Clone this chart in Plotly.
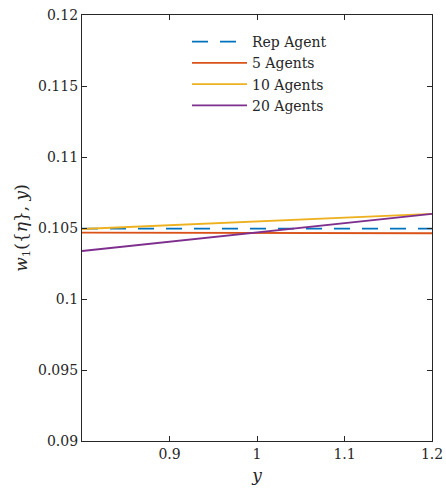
import plotly.graph_objects as go

x_vals = [0.8, 0.9, 1.0, 1.1, 1.2]
rep_agent = [0.10495, 0.10495, 0.10495, 0.10495, 0.10495]
agents_5 = [0.10468, 0.10467, 0.10466, 0.10465, 0.10463]
agents_10 = [0.10493, 0.10520, 0.10547, 0.10573, 0.10599]
agents_20 = [0.10338, 0.10404, 0.10469, 0.10534, 0.10599]

series = [
    ("Rep Agent", rep_agent, "#0072BD", "16px,12px"),
    ("5 Agents", agents_5, "#D95319", "solid"),
    ("10 Agents", agents_10, "#EDB120", "solid"),
    ("20 Agents", agents_20, "#7E2F8E", "solid"),
]

x_ticks = [0.9, 1.0, 1.1, 1.2]
x_ticktext = ["0.9", "1", "1.1", "1.2"]
y_ticks = [0.09, 0.095, 0.1, 0.105, 0.11, 0.115, 0.12]
y_ticktext = ["0.09", "0.095", "0.1", "0.105", "0.11", "0.115", "0.12"]

fig = go.Figure()
for name, vals, color, dash in series:
    fig.add_trace(go.Scatter(x=x_vals, y=vals, mode="lines", name=name,
                             line=dict(color=color, width=1.8, dash=dash)))

font = "DejaVu Serif"
axis_common = dict(showline=True, linecolor="#262626", linewidth=1.2, mirror="ticks",
                   ticks="inside", ticklen=5, tickcolor="#262626", tickwidth=1,
                   showgrid=False, zeroline=False, automargin=False,
                   tickfont=dict(family=font, size=14, color="#262626"))

fig.update_layout(
    width=446, height=492,
    margin=dict(l=82, r=14, t=15, b=51),
    plot_bgcolor="white", paper_bgcolor="white",
    showlegend=True,
    legend=dict(x=0.3, y=0.974, xanchor="left", yanchor="top",
                bgcolor="rgba(0,0,0,0)", borderwidth=0, itemwidth=55,
                font=dict(family=font, size=14, color="#262626"),
                tracegroupgap=0),
    xaxis=dict(range=[0.8, 1.2], tickvals=x_ticks, ticktext=x_ticktext,
               title=dict(text="<i>y</i>", font=dict(family=font, size=17, color="#262626"), standoff=8),
               **axis_common),
    yaxis=dict(range=[0.09, 0.12], tickvals=y_ticks, ticktext=y_ticktext,
               title=dict(text="<i>w</i><sub>1</sub>({<i>η</i>}, <i>y</i>)",
                          font=dict(family=font, size=17, color="#262626"), standoff=6),
               **axis_common),
)

fig.write_html("out.html")
